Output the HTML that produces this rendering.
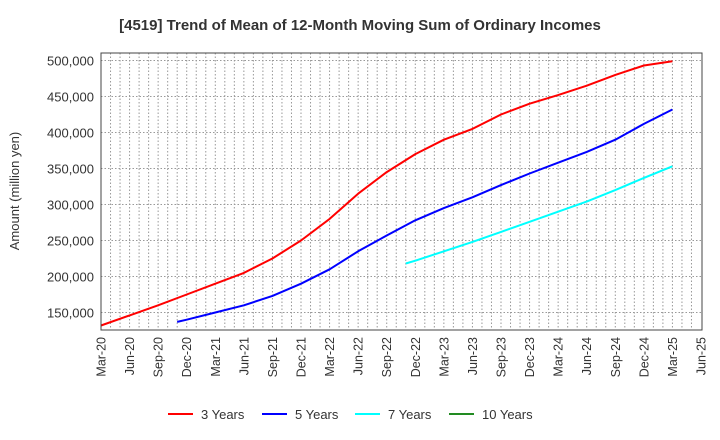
<!DOCTYPE html>
<html><head><meta charset="utf-8"><style>
html,body{margin:0;padding:0;background:#fff;}
svg{display:block;font-family:"Liberation Sans",Arial,sans-serif;}
</style></head><body>
<svg id="chart" width="720" height="440" viewBox="0 0 720 440">
<text x="360" y="30" text-anchor="middle" font-size="15" font-weight="bold" fill="#333">[4519]  Trend of Mean of 12-Month Moving Sum of Ordinary Incomes</text>
<text transform="translate(19,191) rotate(-90)" text-anchor="middle" font-size="13" fill="#333">Amount (million yen)</text>
<g id="grid"></g>
<g id="series"></g>
<rect x="101" y="53" width="601" height="277" fill="none" stroke="#444" stroke-width="1"/>
<g id="yticks"></g>
<g id="xticks"></g>
<g id="legend"></g>
</svg>
<script>
const xLabels=["Mar-20","Jun-20","Sep-20","Dec-20","Mar-21","Jun-21","Sep-21","Dec-21","Mar-22","Jun-22","Sep-22","Dec-22","Mar-23","Jun-23","Sep-23","Dec-23","Mar-24","Jun-24","Sep-24","Dec-24","Mar-25","Jun-25"];
const yTicks=[150000,200000,250000,300000,350000,400000,450000,500000];
const months3=[0,3,6,9,12,15,18,21,24,27,30,33,36,39,42,45,48,51,54,57,60];
const vals3=[132000,146000,160000,175000,190000,205000,225000,250000,280000,315000,345000,370000,390000,405000,425000,440000,452000,465000,480000,493000,499000];
const months5=[8,9,12,15,18,21,24,27,30,33,36,39,42,45,48,51,54,57,60];
const vals5=[137000,140000,150000,160000,173000,190000,210000,235000,257000,278000,295000,310000,327000,343000,358000,373000,390000,412000,432000];
const months7=[32,33,36,39,42,45,48,51,54,57,60];
const vals7=[218000,222000,235000,248000,262000,276000,290000,304000,320000,337000,353000];
const months10=[];
const vals10=[];
const seriesNames=["3 Years","5 Years","7 Years","10 Years"];
const seriesColors=["#ff0000","#0000ff","#00ffff","#228b22"];

const X0=101,X1=701,Y0=330,Y1=53,YMIN=125700,YMAX=510400,NMONTHS=63;
const xs=m=>X0+(X1-X0)*m/NMONTHS;
const ys=v=>Y0-(Y0-Y1)*(v-YMIN)/(YMAX-YMIN);
const NS="http://www.w3.org/2000/svg";
function mk(tag,attrs,parent){const e=document.createElementNS(NS,tag);for(const k in attrs)e.setAttribute(k,attrs[k]);parent.appendChild(e);return e;}
const grid=document.getElementById('grid');
for(let m=1;m<NMONTHS;m++){
  const l=mk('line',{x1:xs(m),x2:xs(m),y1:Y1,y2:Y0,stroke:'#999','stroke-dasharray':'1.5,2','stroke-width':1},grid);
  
  
}
const yt=document.getElementById('yticks');
yTicks.forEach(v=>{
  const l=mk('line',{x1:X0,x2:X1,y1:ys(v),y2:ys(v),stroke:'#999','stroke-dasharray':'1.5,2','stroke-width':1},grid);
  
  
  const t=mk('text',{x:94,y:ys(v)+5,'text-anchor':'end','font-size':13,fill:'#333'},yt);
  t.textContent=v.toLocaleString('en-US');
  
  
});
const xt=document.getElementById('xticks');
xLabels.forEach((s,i)=>{
  const x=xs(i*3);
  const t=mk('text',{transform:`translate(${x+4.5},337) rotate(-90)`,'text-anchor':'end','font-size':12.5,fill:'#333'},xt);
  t.textContent=s;
  
  
});
const sg=document.getElementById('series');
[[months3,vals3],[months5,vals5],[months7,vals7],[months10,vals10]].forEach((d,i)=>{
  if(!d[0].length)return;
  const pts=d[0].map((m,j)=>xs(m).toFixed(1)+','+ys(d[1][j]).toFixed(1)).join(' ');
  const p=mk('polyline',{points:pts,fill:'none',stroke:seriesColors[i],'stroke-width':2,'stroke-linejoin':'round'},sg);
  
  
});
const lg=document.getElementById('legend');
const lx=[168,262,355,449];
seriesNames.forEach((n,i)=>{
  const g=mk('g',{},lg);
  
  
  mk('line',{x1:lx[i],x2:lx[i]+25,y1:414,y2:414,stroke:seriesColors[i],'stroke-width':2},g);
  const t=mk('text',{x:lx[i]+33,y:419,'font-size':13,fill:'#333'},g);
  t.textContent=n;
});
</script>
</body></html>
